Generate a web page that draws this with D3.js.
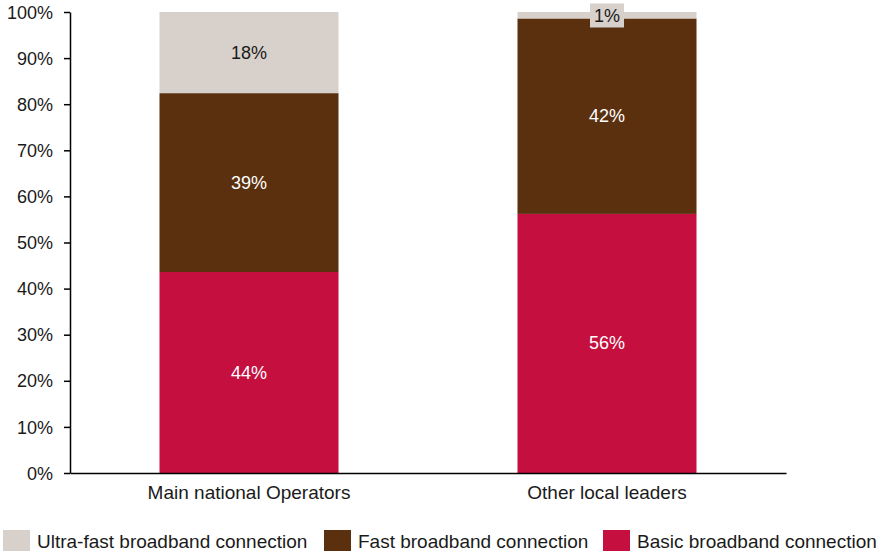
<!DOCTYPE html>
<html>
<head>
<meta charset="utf-8">
<script src="https://cdn.jsdelivr.net/npm/d3@7"></script>
<style>
  body { margin: 0; background: #fff; }
  svg { display: block; font-family: "Liberation Sans", Arial, sans-serif; }
</style>
</head>
<body>
<svg id="chart" width="880" height="552"></svg>
<script>
// Broadband connection mix by operator group (share of lines, %)
const categories = ["Main national Operators", "Other local leaders"];
const seriesNames = ["Basic broadband connection", "Fast broadband connection", "Ultra-fast broadband connection"];
const basicValues = [43.6, 56.2];
const fastValues = [38.8, 42.4];
const ultraValues = [17.6, 1.4];
const yTickValues = [0, 10, 20, 30, 40, 50, 60, 70, 80, 90, 100];
const legendOrder = ["Ultra-fast broadband connection", "Fast broadband connection", "Basic broadband connection"];

const colors = {
  "Basic broadband connection": "#c40f3f",
  "Fast broadband connection": "#5b300f",
  "Ultra-fast broadband connection": "#d8d0cb"
};
const labelColors = {
  "Basic broadband connection": "#ffffff",
  "Fast broadband connection": "#ffffff",
  "Ultra-fast broadband connection": "#1a1a1a"
};

const rows = categories.map((c, i) => ({
  category: c,
  "Basic broadband connection": basicValues[i],
  "Fast broadband connection": fastValues[i],
  "Ultra-fast broadband connection": ultraValues[i]
}));

const svg = d3.select("#chart");
const margin = { left: 70, right: 94, top: 12, bottom: 79 };
const W = 880, H = 552;

const x = d3.scaleBand().domain(categories)
  .range([margin.left, W - margin.right]).paddingInner(0.5).paddingOuter(0.25);
const y = d3.scaleLinear().domain([0, 100]).range([H - margin.bottom, margin.top]);

const stack = d3.stack().keys(seriesNames)(rows);

const g = svg.append("g");
stack.forEach(layer => {
  const key = layer.key;
  g.selectAll(null).data(layer).enter().append("rect")
    .attr("x", d => x(d.data.category))
    .attr("width", x.bandwidth())
    .attr("y", d => y(d[1]))
    .attr("height", d => y(d[0]) - y(d[1]))
    .attr("fill", colors[key]);
});

// Segment value labels; thin segments get a boxed label at the top
stack.forEach(layer => {
  const key = layer.key;
  layer.forEach(d => {
    const v = d[1] - d[0];
    const cx = x(d.data.category) + x.bandwidth() / 2;
    const small = (y(d[0]) - y(d[1])) < 20;
    const cy = small ? y(d[1]) + 3.5 : (y(d[0]) + y(d[1])) / 2;
    const txt = Math.round(v) + "%";
    const t = g.append("text")
      .attr("x", cx).attr("y", cy)
      .attr("text-anchor", "middle").attr("dominant-baseline", "central")
      .attr("font-size", 18).attr("fill", labelColors[key]).text(txt);
    if (small) {
      const bb = t.node().getBBox();
      g.insert("rect", () => t.node())
        .attr("x", bb.x - 4).attr("y", cy - 12)
        .attr("width", bb.width + 8).attr("height", 24)
        .attr("fill", colors[key]);
    }
  });
});

// Axes
const yAxis = d3.axisLeft(y).tickValues(yTickValues).tickFormat(d => d + "%").tickSize(6).tickSizeOuter(0);
const ya = svg.append("g").attr("transform", `translate(${margin.left},0)`).call(yAxis);
ya.select(".domain").attr("stroke", "#000").attr("stroke-width", 1.5);
ya.selectAll(".tick line").attr("stroke", "#000").attr("stroke-width", 1.5);
ya.selectAll(".tick text").attr("font-size", 18).attr("fill", "#1a1a1a")
  .attr("x", -17).attr("dy", "0.34em").attr("font-family", "Liberation Sans, Arial, sans-serif");

const xAxis = d3.axisBottom(x).tickSize(0).tickSizeOuter(0);
const xa = svg.append("g").attr("transform", `translate(0,${H - margin.bottom})`).call(xAxis);
xa.select(".domain").attr("stroke", "#000").attr("stroke-width", 1.5);
xa.selectAll(".tick text").attr("font-size", 19).attr("fill", "#1a1a1a")
  .attr("y", 26).attr("dy", 0).attr("font-family", "Liberation Sans, Arial, sans-serif");

// Legend
const legendX = [3, 324, 603];
const legend = svg.append("g");
legendOrder.forEach((name, i) => {
  const lg = legend.append("g").attr("transform", `translate(${legendX[i]},530)`);
  lg.append("rect").attr("width", 27).attr("height", 21).attr("fill", colors[name]);
  lg.append("text").attr("x", 34).attr("y", 18)
    .attr("font-size", 19).attr("fill", "#1a1a1a").text(name);
});
</script>
</body>
</html>
